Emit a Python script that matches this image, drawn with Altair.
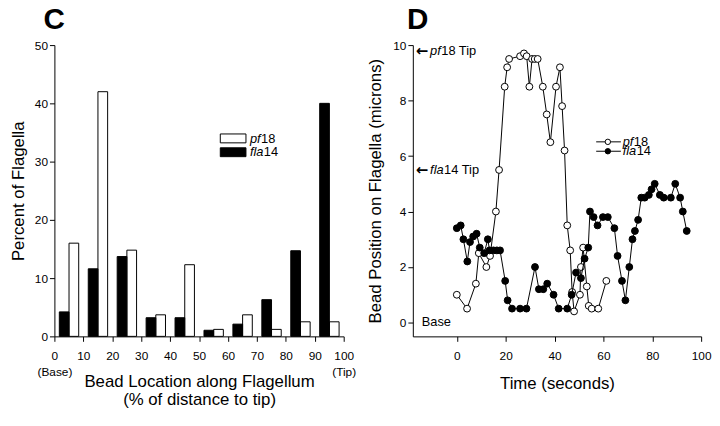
import altair as alt
import pandas as pd

FONT = "Liberation Sans"

# ---------------- Panel C data ----------------
bins = [0, 10, 20, 30, 40, 50, 60, 70, 80, 90]
pf18_pct = [16.0, 42.0, 14.8, 3.7, 12.3, 1.2, 3.7, 1.2, 2.5, 2.5]
fla14_pct = [4.2, 11.6, 13.7, 3.2, 3.2, 1.05, 2.1, 6.3, 14.7, 40.0]

# ---------------- Panel D data ----------------
pf18_time = [0.0, 4.2, 7.8, 9.0, 12.1, 13.6, 16.0, 17.3, 19.6, 20.6, 21.4, 25.9,
             27.5, 28.6, 29.7, 30.8, 31.9, 33.1, 35.2, 36.8, 38.3, 40.6, 42.2,
             43.1, 44.1, 45.2, 46.4, 47.2, 48.0, 50.4, 50.8, 51.7, 53.2, 54.0,
             55.2, 57.9, 61.2]
pf18_pos = [1.0, 0.5, 1.4, 2.5, 2.0, 2.4, 4.0, 5.5, 8.5, 9.2, 9.5, 9.6,
            9.7, 9.6, 8.5, 9.5, 9.5, 9.5, 8.5, 7.5, 6.5, 8.5, 9.2,
            7.8, 6.2, 3.5, 2.6, 1.1, 0.4, 1.0, 2.0, 2.7, 1.3, 0.6,
            0.5, 0.5, 1.5]

fla14_time = [0.0, 1.6, 2.7, 4.3, 5.4, 6.7, 8.1, 9.4, 11.2, 12.7, 13.4, 15.0,
              16.4, 17.7, 19.8, 20.8, 22.6, 25.9, 28.5, 32.0, 33.6, 35.4, 37.0,
              39.6, 41.7, 45.2, 47.0, 48.8, 50.8, 52.3, 53.8, 54.5, 56.0, 57.6,
              59.8, 61.8, 64.5, 65.8, 67.6, 69.0, 70.6, 71.9, 72.9, 74.2, 75.5,
              76.9, 78.6, 79.7, 81.0, 83.1, 84.7, 87.6, 89.4, 91.4, 92.5, 94.1]
fla14_pos = [3.4, 3.5, 3.0, 2.2, 2.9, 3.1, 3.2, 2.7, 2.5, 3.0, 2.6, 2.6,
             2.6, 2.6, 1.5, 0.8, 0.5, 0.5, 0.5, 2.0, 1.2, 1.2, 1.4,
             1.0, 0.5, 0.5, 1.0, 1.8, 1.6, 2.3, 2.7, 4.0, 3.8, 3.5,
             3.8, 3.8, 3.4, 2.4, 1.5, 0.8, 2.0, 3.0, 3.3, 3.7, 4.5,
             4.5, 4.6, 4.8, 5.0, 4.6, 4.5, 4.5, 5.0, 4.5, 4.0, 3.3]

tip_names = ["pf18", "fla14"]
tip_values = [9.8, 5.5]

# ---------------- Panel C ----------------
bar_df = pd.DataFrame({
    "bin": bins * 2,
    "pct": pf18_pct + fla14_pct,
    "strain": ["pf18"] * len(bins) + ["fla14"] * len(bins),
})

W1, H1 = 293, 295
bars = alt.Chart(bar_df).transform_calculate(
    x0="datum.bin + (datum.strain == 'fla14' ? 1.7 : 5.05)",
    x1="datum.bin + (datum.strain == 'fla14' ? 5.05 : 8.4)",
).mark_rect(stroke="black", strokeWidth=1).encode(
    x=alt.X("x0:Q", scale=alt.Scale(domain=[0, 100], nice=False, zero=False),
            axis=alt.Axis(values=list(range(0, 101, 10)),
                          labelExpr="datum.value == 0 ? ['0', '(Base)'] : datum.value == 100 ? ['100', '(Tip)'] : datum.label",
                          labelLineHeight=17, labelAlign="center", labelOverlap=False,
                          labelFlush=False, labelPadding=9,
                          title=["Bead Location along Flagellum", "(% of distance to tip)"],
                          titleLineHeight=18, titlePadding=-4)),
    x2="x1:Q",
    y=alt.Y("pct:Q", scale=alt.Scale(domain=[0, 50], nice=False),
            axis=alt.Axis(values=list(range(0, 51, 10)), title="Percent of Flagella",
                          titlePadding=7)),
    y2=alt.datum(0),
    fill=alt.Fill("strain:N", scale=alt.Scale(domain=["pf18", "fla14"], range=["white", "black"]),
                  legend=None),
)

def one(text):
    return pd.DataFrame({"t": [text]})

def txt(text, x, y, size=13, style="normal", font=FONT, weight="normal", baseline="middle"):
    return alt.Chart(one(text)).mark_text(
        align="left", baseline=baseline, font=font, fontSize=size, fontStyle=style,
        fontWeight=weight, color="black"
    ).encode(text="t:N", x=alt.value(x), y=alt.value(y))

def box(x, x2, y, y2, fill):
    return alt.Chart(one("b")).mark_rect(fill=fill, stroke="black", strokeWidth=1).encode(
        x=alt.value(x), x2=alt.value(x2), y=alt.value(y), y2=alt.value(y2))

leg_c = [
    box(168, 194, 90, 99, "white"),
    box(168, 194, 104, 113, "black"),
    txt("pf", 198, 95, style="italic"),
    txt("18", 209.3, 95),
    txt("fla", 198, 108.5, style="italic"),
    txt("14", 212.1, 108.5),
    txt("C", -11, -16, size=30, weight="bold", baseline="alphabetic"),
]

panel_c = alt.layer(bars, *leg_c).properties(width=W1, height=H1)

# ---------------- Panel D ----------------
ts_df = pd.DataFrame({
    "time": pf18_time + fla14_time,
    "pos": pf18_pos + fla14_pos,
    "strain": ["pf18"] * len(pf18_time) + ["fla14"] * len(fla14_time),
})

W2, H2 = 292, 295
xs = alt.Scale(domain=[-18, 100], nice=False, zero=False)
ys = alt.Scale(domain=[-0.5, 10], nice=False, zero=False)

def series(name, fill):
    d = ts_df[ts_df["strain"] == name]
    base = alt.Chart(d)
    ln = base.mark_line(color="black", strokeWidth=1).encode(
        x=alt.X("time:Q", scale=xs,
                axis=alt.Axis(values=[0, 20, 40, 60, 80, 100], title="Time (seconds)",
                              labelPadding=9, labelFlush=False, labelOverlap=False,
                              titlePadding=15)),
        y=alt.Y("pos:Q", scale=ys,
                axis=alt.Axis(values=list(range(0, 11)),
                              title="Bead Position on Flagella (microns)", titlePadding=8)),
    )
    pt = base.mark_point(shape="circle", filled=True, fill=fill, stroke="black",
                         strokeWidth=1, size=48, opacity=1).encode(
        x=alt.X("time:Q", scale=xs), y=alt.Y("pos:Q", scale=ys))
    return [ln, pt]

tip_df = pd.DataFrame({"name": tip_names, "pos": tip_values})
arrows = alt.Chart(tip_df).mark_text(align="left", baseline="middle", font="DejaVu Sans",
                                     fontWeight="bold", fontSize=15, color="black").encode(
    text=alt.value("\u2190"), x=alt.value(3), y=alt.Y("pos:Q", scale=ys))

def tip_part(name, label, x, italic):
    return alt.Chart(tip_df[tip_df["name"] == name]).transform_calculate(
        lbl="'" + label + "'"
    ).mark_text(
        align="left", baseline="middle", font=FONT, fontSize=13,
        fontStyle="italic" if italic else "normal", color="black"
    ).encode(text="lbl:N", x=alt.value(x), y=alt.Y("pos:Q", scale=ys))

tip_texts = [
    tip_part("pf18", "pf", 17.5, True),
    tip_part("pf18", "18 Tip", 28.8, False),
    tip_part("fla14", "fla", 17.5, True),
    tip_part("fla14", "14 Tip", 31.7, False),
]

base_lbl = alt.Chart(one("Base")).mark_text(
    align="left", baseline="middle", font=FONT, fontSize=13, color="black"
).encode(text="t:N", x=alt.value(9), y=alt.datum(0, scale=ys))

def leg_line(y, fill):
    ln = alt.Chart(one("l")).mark_rule(color="black", strokeWidth=1).encode(
        x=alt.value(185.7), x2=alt.value(210.7), y=alt.value(y))
    pt = alt.Chart(one("p")).mark_point(shape="circle", filled=True, fill=fill, stroke="black",
                                        strokeWidth=1, size=30, opacity=1).encode(
        x=alt.value(197.5), y=alt.value(y))
    return [ln, pt]

leg_d = (leg_line(98, "white") + leg_line(107.5, "black") + [
    txt("pf", 212.5, 98, style="italic"),
    txt("18", 223.8, 98),
    txt("fla", 212.5, 107.8, style="italic"),
    txt("14", 226.7, 107.8),
    txt("D", -6, -16, size=30, weight="bold", baseline="alphabetic"),
])

panel_d = alt.layer(*series("pf18", "white"), *series("fla14", "black"),
                    arrows, *tip_texts, base_lbl, *leg_d).properties(width=W2, height=H2)

chart = alt.hconcat(panel_c, panel_d, spacing=10).properties(
    padding={"left": 1, "top": -5, "right": 0, "bottom": 0}
).configure_view(stroke=None).configure_axis(
    domainColor="black", tickColor="black", labelColor="black", titleColor="black",
    labelFont=FONT, titleFont=FONT, labelFontSize=12, titleFontSize=17,
    titleFontWeight="normal", grid=False, tickSize=5, domainWidth=1, tickWidth=1,
    labelPadding=2,
)

chart.save("out.html", embed_options={"renderer": "svg", "actions": False})
